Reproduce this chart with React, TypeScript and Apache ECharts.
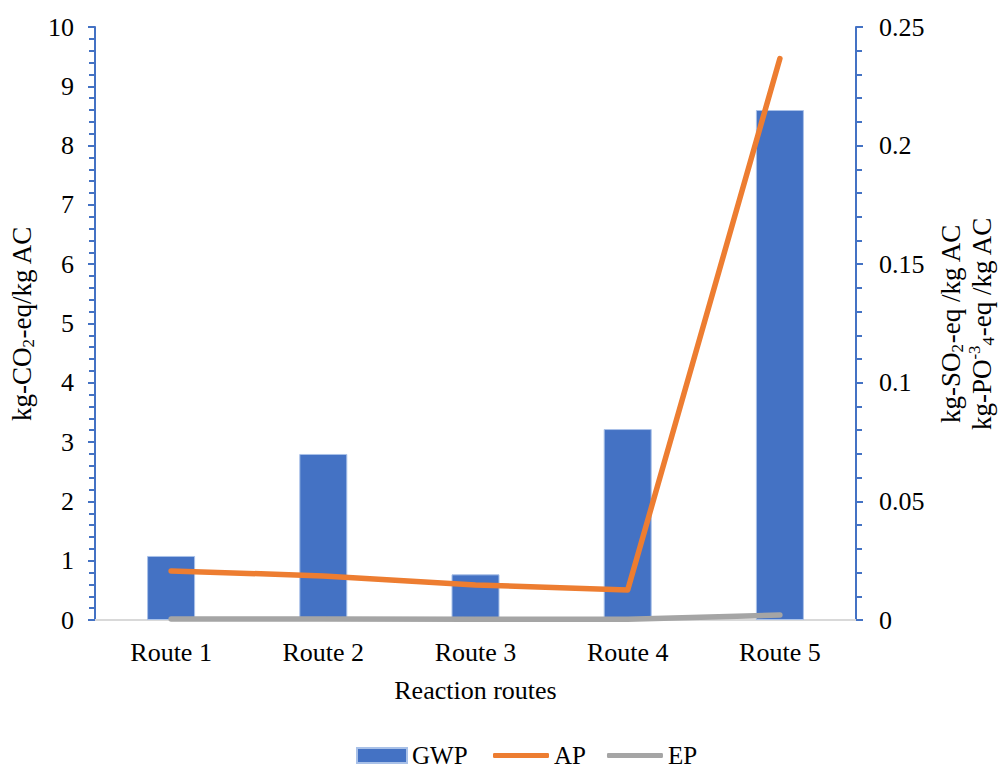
import React, { useEffect, useRef } from "react";
import * as echarts from "echarts";

const categories = ["Route 1", "Route 2", "Route 3", "Route 4", "Route 5"];
const gwp = [1.08, 2.8, 0.77, 3.22, 8.6];
const ap = [0.0207, 0.0186, 0.0148, 0.0126, 0.2367];
const ep = [0.0004, 0.0004, 0.0003, 0.0003, 0.0021];
const leftTicks = { min: 0, max: 10, interval: 1 };
const rightTicks = { min: 0, max: 0.25, interval: 0.05 };

const FONT = "'Liberation Serif', 'Times New Roman', serif";
const BLUE = "#4472C4";
const ORANGE = "#ED7D31";
const GREY = "#A5A5A5";

const rich = {
  a: { fontFamily: FONT, fontSize: 27, color: "#000", lineHeight: 31, verticalAlign: "middle" },
  s: { fontFamily: FONT, fontSize: 17, color: "#000", lineHeight: 17, verticalAlign: "bottom" },
  p: { fontFamily: FONT, fontSize: 17, color: "#000", lineHeight: 17, verticalAlign: "top" },
};

export default function App() {
  const ref = useRef<HTMLDivElement>(null);
  useEffect(() => {
    if (!ref.current) return;
    const chart = echarts.init(ref.current, null, { renderer: "svg" });
    const axisCommon = {
      axisLine: { show: true, lineStyle: { color: BLUE, width: 2 } },
      axisTick: { show: true, inside: false, length: 7, lineStyle: { color: BLUE, width: 2 } },
      minorTick: { show: true, splitNumber: 5, length: 6, lineStyle: { color: BLUE, width: 2 } },
      splitLine: { show: false },
    };
    const labelStyle = { fontFamily: FONT, fontSize: 26, color: "#000" };
    const legendText = { fontFamily: FONT, fontSize: 25, color: "#000", lineHeight: 20 };
    chart.setOption({
      animation: false,
      backgroundColor: "#fff",
      grid: { left: 95, right: 143, top: 27, bottom: 149, containLabel: false },
      legend: [
        {
          top: 738,
          left: 351,
          itemWidth: 50,
          itemHeight: 15,
          textStyle: legendText,
          data: [{ name: "GWP", icon: "rect" }],
        },
        {
          top: 738,
          left: 488,
          itemWidth: 56,
          itemHeight: 5,
          itemGap: 21,
          textStyle: legendText,
          data: [
            { name: "AP", icon: "roundRect" },
            { name: "EP", icon: "roundRect" },
          ],
        },
      ],
      xAxis: {
        type: "category",
        data: categories,
        axisLine: { show: true, lineStyle: { color: "#d9d9d9", width: 2 } },
        axisTick: { show: false },
        axisLabel: { ...labelStyle, margin: 19 },
        name: "Reaction routes",
        nameLocation: "middle",
        nameGap: 57,
        nameTextStyle: labelStyle,
      },
      yAxis: [
        {
          type: "value",
          position: "left",
          min: leftTicks.min,
          max: leftTicks.max,
          interval: leftTicks.interval,
          ...axisCommon,
          axisLabel: { ...labelStyle, margin: 21 },
          name: "{a|kg-CO}{s|2}{a|-eq/kg AC}",
          nameLocation: "middle",
          nameGap: 57,
          nameRotate: 90,
          nameTextStyle: { rich },
        },
        {
          type: "value",
          position: "right",
          min: rightTicks.min,
          max: rightTicks.max,
          interval: rightTicks.interval,
          ...axisCommon,
          axisLabel: { ...labelStyle, margin: 23 },
          name: "{a|kg-SO}{s|2}{a|-eq /kg AC}\n{a|kg-PO}{p|-3}{s|4}{a|-eq /kg AC}",
          nameLocation: "middle",
          nameGap: 79,
          nameRotate: 90,
          nameTextStyle: { rich },
        },
      ],
      series: [
        {
          name: "GWP",
          type: "bar",
          data: gwp,
          barWidth: 48,
          itemStyle: { color: BLUE, borderColor: "#a9c1e8", borderWidth: 1 },
          z: 1,
        },
        {
          name: "AP",
          type: "line",
          yAxisIndex: 1,
          data: ap,
          symbol: "none",
          showSymbol: false,
          color: ORANGE,
          itemStyle: { color: ORANGE },
          lineStyle: { color: ORANGE, width: 5.5, cap: "round", join: "round" },
          z: 3,
        },
        {
          name: "EP",
          type: "line",
          yAxisIndex: 1,
          data: ep,
          symbol: "none",
          showSymbol: false,
          color: GREY,
          itemStyle: { color: GREY },
          lineStyle: { color: GREY, width: 5.5, cap: "round", join: "round" },
          z: 3,
        },
      ],
    });
    return () => chart.dispose();
  }, []);
  return (
    <div
      ref={ref}
      style={{ position: "fixed", left: 0, top: 0, width: 1005, height: 769, background: "#fff" }}
    />
  );
}
